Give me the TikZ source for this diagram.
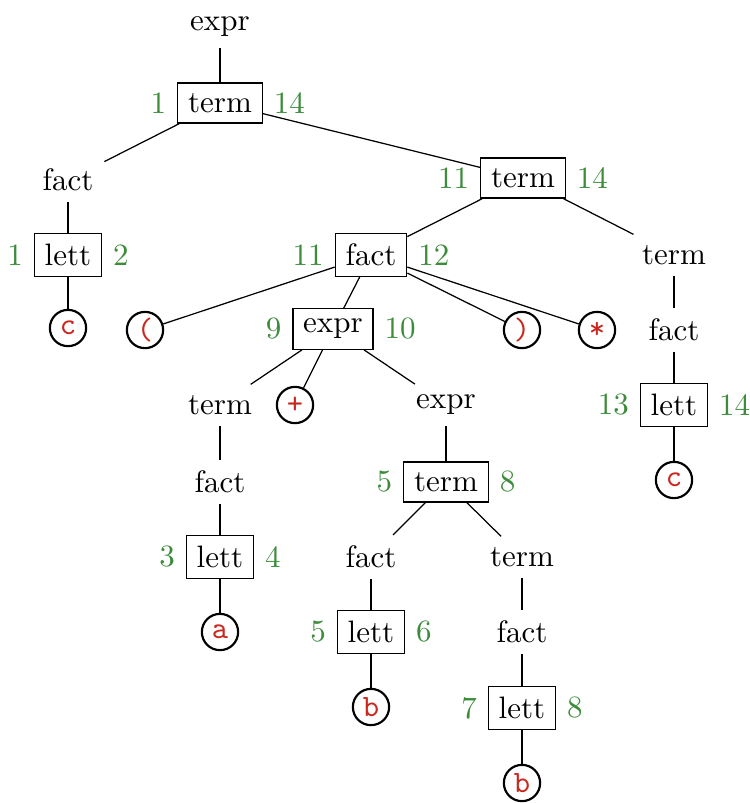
\documentclass[tikz,border=0pt]{standalone}
\definecolor{numgreen}{RGB}{60,140,60}
\definecolor{leafred}{RGB}{200,40,30}
\tikzset{
  word/.style={inner sep=3.33pt},
  boxed/.style={draw, line width=0.4pt, inner sep=3.33pt},
  leaf/.style={circle, draw, line width=0.7pt, minimum size=11.7pt, inner sep=0pt,
               font=\ttfamily, text=leafred},
  num/.style={text=numgreen},
  nums/.style 2 args={label={[num]left:#1}, label={[num]right:#2}},
  edge/.style={line width=0.4pt}
}
\begin{document}
\begin{tikzpicture}[x=0.3225pt,y=-0.3225pt]
\useasboundingbox (0,0) rectangle (750,803);

% top level
\node[word] (e0) at (220,27) {expr};
\node[boxed,nums={1}{14}] (t0) at (220,103) {term};
\node[word] (f1) at (68,180) {fact};
\node[boxed,nums={1}{2}] (l1) at (68,255) {lett};
\node[leaf] (c1) at (68,328) {c};
\node[boxed,nums={11}{14}] (t1) at (523,178) {term};

% parenthesised factor
\node[boxed,nums={11}{12}] (f2) at (371,255) {fact};
\node[leaf] (lp) at (145,330) {(};
\node[boxed,nums={9}{10}] (e1) at (333,329) {expr};
\node[leaf] (rp) at (522,330) {)};
\node[leaf] (st) at (597,330) {*};

% inner sum
\node[word] (t2) at (220,405) {term};
\node[leaf] (pl) at (295,405) {+};
\node[word] (e2) at (446,405) {expr};
\node[word] (f3) at (220,482) {fact};
\node[boxed,nums={3}{4}] (l3) at (220,557) {lett};
\node[leaf] (ca) at (220,632) {a};

\node[boxed,nums={5}{8}] (t3) at (446,482) {term};
\node[word] (f4) at (371,557) {fact};
\node[boxed,nums={5}{6}] (l4) at (371,632) {lett};
\node[leaf] (cb1) at (371,707) {b};
\node[word] (t4) at (522,557) {term};
\node[word] (f5) at (522,632) {fact};
\node[boxed,nums={7}{8}] (l5) at (522,708) {lett};
\node[leaf] (cb2) at (522,783) {b};

% right branch
\node[word] (t5) at (674,255) {term};
\node[word] (f6) at (674,330) {fact};
\node[boxed,nums={13}{14}] (l6) at (674,405) {lett};
\node[leaf] (c2) at (674,480) {c};

% connectors
\draw[edge] (e0) -- (t0);
\draw[edge] (t0) -- (f1);
\draw[edge] (t0) -- (t1);
\draw[edge] (f1) -- (l1);
\draw[edge] (l1) -- (c1);
\draw[edge] (t1) -- (f2);
\draw[edge] (t1) -- (t5);
\draw[edge] (f2) -- (lp);
\draw[edge] (f2) -- (e1);
\draw[edge] (f2) -- (rp);
\draw[edge] (f2) -- (st);
\draw[edge] (e1) -- (t2);
\draw[edge] (e1) -- (pl);
\draw[edge] (e1) -- (e2);
\draw[edge] (t2) -- (f3);
\draw[edge] (f3) -- (l3);
\draw[edge] (l3) -- (ca);
\draw[edge] (e2) -- (t3);
\draw[edge] (t3) -- (f4);
\draw[edge] (t3) -- (t4);
\draw[edge] (f4) -- (l4);
\draw[edge] (l4) -- (cb1);
\draw[edge] (t4) -- (f5);
\draw[edge] (f5) -- (l5);
\draw[edge] (l5) -- (cb2);
\draw[edge] (t5) -- (f6);
\draw[edge] (f6) -- (l6);
\draw[edge] (l6) -- (c2);
\end{tikzpicture}
\end{document}
